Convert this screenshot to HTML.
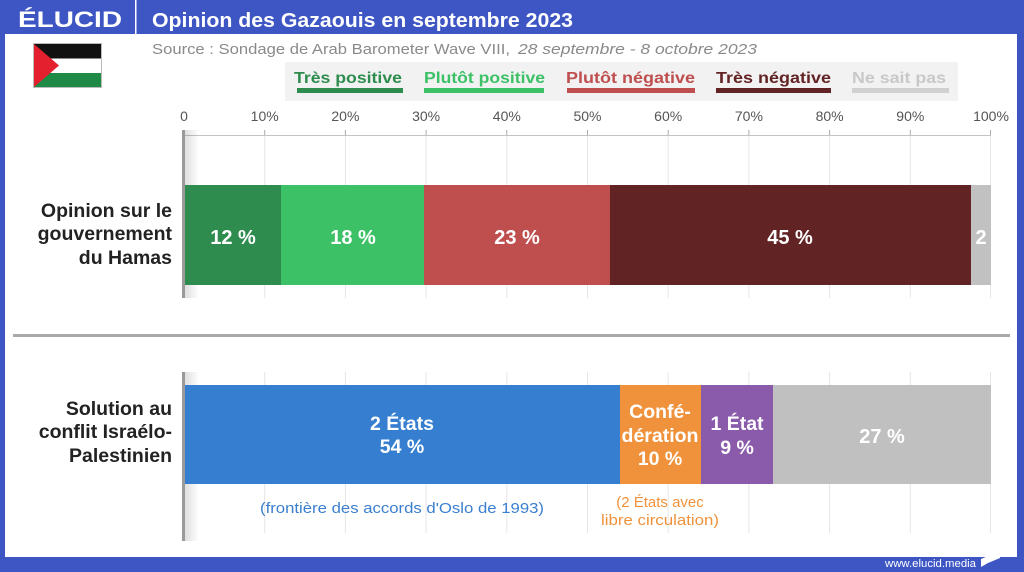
<!DOCTYPE html>
<html>
<head>
<meta charset="utf-8">
<style>
  html,body{margin:0;padding:0;background:#3d56c4;}
  svg{display:block;}
  text{font-family:"Liberation Sans",Arial,sans-serif;}
</style>
</head>
<body>
<svg width="1024" height="572" viewBox="0 0 1024 572" xmlns="http://www.w3.org/2000/svg">
  <defs>
    <linearGradient id="sh" x1="0" y1="0" x2="1" y2="0">
      <stop offset="0" stop-color="#000" stop-opacity="0.13"/>
      <stop offset="1" stop-color="#000" stop-opacity="0"/>
    </linearGradient>
  </defs>
  <!-- background -->
  <rect x="0" y="0" width="1024" height="572" fill="#3d56c4"/>
  <rect x="5" y="34" width="1012" height="523" fill="#ffffff"/>

  <!-- header -->
  <text x="18" y="27" font-size="22" font-weight="bold" fill="#fff" textLength="104" lengthAdjust="spacingAndGlyphs">ÉLUCID</text>
  <rect x="135" y="0" width="1.5" height="34" fill="#ffffff"/>
  <text x="152" y="27" font-size="20" font-weight="bold" fill="#fff" textLength="421" lengthAdjust="spacingAndGlyphs">Opinion des Gazaouis en septembre 2023</text>

  <!-- flag -->
  <rect x="33.5" y="43.5" width="68" height="44" fill="#fff" stroke="#bbb" stroke-width="1"/>
  <rect x="34" y="44" width="67" height="14.5" fill="#111"/>
  <rect x="34" y="58.5" width="67" height="14.5" fill="#fff"/>
  <rect x="34" y="73" width="67" height="14" fill="#1e8a45"/>
  <polygon points="34,44 59,65.5 34,87" fill="#e5202e"/>

  <!-- source -->
  <text x="152" y="54" font-size="15" fill="#8a8a8a" textLength="358" lengthAdjust="spacingAndGlyphs">Source : Sondage de Arab Barometer Wave VIII,</text>
  <text x="518" y="54" font-size="15" font-style="italic" fill="#8a8a8a" textLength="239" lengthAdjust="spacingAndGlyphs">28 septembre -  8 octobre 2023</text>

  <!-- legend -->
  <rect x="285" y="62" width="673" height="39" fill="#f2f2f2"/>
  <text x="294" y="83" font-size="16" font-weight="bold" fill="#2e8c4e" textLength="108" lengthAdjust="spacingAndGlyphs">Très positive</text>
  <rect x="297" y="88" width="106" height="5" fill="#2e8c4e"/>
  <text x="424" y="83" font-size="16" font-weight="bold" fill="#3dc167" textLength="121" lengthAdjust="spacingAndGlyphs">Plutôt positive</text>
  <rect x="424" y="88" width="120" height="5" fill="#3dc167"/>
  <text x="566" y="83" font-size="16" font-weight="bold" fill="#bf4f4f" textLength="129" lengthAdjust="spacingAndGlyphs">Plutôt négative</text>
  <rect x="567" y="88" width="128" height="5" fill="#bf4f4f"/>
  <text x="716" y="83" font-size="16" font-weight="bold" fill="#622325" textLength="115" lengthAdjust="spacingAndGlyphs">Très négative</text>
  <rect x="716" y="88" width="115" height="5" fill="#622325"/>
  <text x="852" y="83" font-size="16" font-weight="bold" fill="#c8c8c8" textLength="94" lengthAdjust="spacingAndGlyphs">Ne sait pas</text>
  <rect x="852" y="88" width="97" height="5" fill="#d0d0d0"/>

  <!-- axis tick labels -->
  <g font-size="14" fill="#555" text-anchor="middle">
    <text x="184" y="121">0</text>
    <text x="264.7" y="121">10%</text>
    <text x="345.4" y="121">20%</text>
    <text x="426.1" y="121">30%</text>
    <text x="506.8" y="121">40%</text>
    <text x="587.5" y="121">50%</text>
    <text x="668.2" y="121">60%</text>
    <text x="748.9" y="121">70%</text>
    <text x="829.6" y="121">80%</text>
    <text x="910.3" y="121">90%</text>
    <text x="991" y="121">100%</text>
  </g>

  <!-- top chart gridlines -->
  <g stroke="#e6e6e6" stroke-width="1">
    <line x1="264.7" y1="135" x2="264.7" y2="298"/>
    <line x1="345.4" y1="135" x2="345.4" y2="298"/>
    <line x1="426.1" y1="135" x2="426.1" y2="298"/>
    <line x1="506.8" y1="135" x2="506.8" y2="298"/>
    <line x1="587.5" y1="135" x2="587.5" y2="298"/>
    <line x1="668.2" y1="135" x2="668.2" y2="298"/>
    <line x1="748.9" y1="135" x2="748.9" y2="298"/>
    <line x1="829.6" y1="135" x2="829.6" y2="298"/>
    <line x1="910.3" y1="135" x2="910.3" y2="298"/>
    <line x1="990.5" y1="135" x2="990.5" y2="298"/>
  </g>
  <g stroke="#aaa" stroke-width="1">
    <line x1="264.7" y1="130" x2="264.7" y2="135"/>
    <line x1="345.4" y1="130" x2="345.4" y2="135"/>
    <line x1="426.1" y1="130" x2="426.1" y2="135"/>
    <line x1="506.8" y1="130" x2="506.8" y2="135"/>
    <line x1="587.5" y1="130" x2="587.5" y2="135"/>
    <line x1="668.2" y1="130" x2="668.2" y2="135"/>
    <line x1="748.9" y1="130" x2="748.9" y2="135"/>
    <line x1="829.6" y1="130" x2="829.6" y2="135"/>
    <line x1="910.3" y1="130" x2="910.3" y2="135"/>
    <line x1="990.5" y1="130" x2="990.5" y2="135"/>
  </g>
  <line x1="184" y1="135.5" x2="991" y2="135.5" stroke="#c4c4c4" stroke-width="1"/>
  <rect x="185" y="130" width="14" height="168" fill="url(#sh)"/>

  <!-- top bar -->
  <rect x="184" y="185" width="97" height="100" fill="#2e8c4e"/>
  <rect x="281" y="185" width="143" height="100" fill="#3dc167"/>
  <rect x="424" y="185" width="186" height="100" fill="#bf4f4f"/>
  <rect x="610" y="185" width="361" height="100" fill="#622325"/>
  <rect x="971" y="185" width="20" height="100" fill="#c1c1c1"/>
  <rect x="182" y="130" width="3" height="168" fill="#9a9a9a"/>

  <g font-size="20" font-weight="bold" fill="#fff" text-anchor="middle">
    <text x="233" y="244">12 %</text>
    <text x="353" y="244">18 %</text>
    <text x="517" y="244">23 %</text>
    <text x="790" y="244">45 %</text>
    <text x="981" y="244">2</text>
  </g>

  <g font-size="19.5" font-weight="bold" fill="#222" text-anchor="end">
    <text x="172" y="217">Opinion sur le</text>
    <text x="172" y="240">gouvernement</text>
    <text x="172" y="264">du Hamas</text>
  </g>

  <!-- divider -->
  <rect x="13" y="334" width="997" height="3" fill="#a9a9a9"/>

  <!-- bottom chart gridlines -->
  <g stroke="#e6e6e6" stroke-width="1">
    <line x1="264.7" y1="372" x2="264.7" y2="533"/>
    <line x1="345.4" y1="372" x2="345.4" y2="533"/>
    <line x1="426.1" y1="372" x2="426.1" y2="533"/>
    <line x1="506.8" y1="372" x2="506.8" y2="533"/>
    <line x1="587.5" y1="372" x2="587.5" y2="533"/>
    <line x1="668.2" y1="372" x2="668.2" y2="533"/>
    <line x1="748.9" y1="372" x2="748.9" y2="533"/>
    <line x1="829.6" y1="372" x2="829.6" y2="533"/>
    <line x1="910.3" y1="372" x2="910.3" y2="533"/>
    <line x1="990.5" y1="372" x2="990.5" y2="533"/>
  </g>
  <rect x="185" y="372" width="14" height="169" fill="url(#sh)"/>

  <!-- bottom bar -->
  <rect x="184" y="385" width="436" height="99" fill="#367fd0"/>
  <rect x="620" y="385" width="81" height="99" fill="#f0923b"/>
  <rect x="701" y="385" width="72" height="99" fill="#8a5bab"/>
  <rect x="773" y="385" width="218" height="99" fill="#c0c0c0"/>
  <rect x="182" y="372" width="3" height="169" fill="#9a9a9a"/>

  <g font-size="19.5" font-weight="bold" fill="#fff" text-anchor="middle">
    <text x="402" y="430">2 États</text>
    <text x="402" y="453">54 %</text>
    <text x="660" y="418">Confé-</text>
    <text x="660" y="442">dération</text>
    <text x="660" y="465">10 %</text>
    <text x="737" y="430">1 État</text>
    <text x="737" y="454">9 %</text>
    <text x="882" y="443" font-size="20">27 %</text>
  </g>

  <text x="402" y="513" font-size="15" fill="#3a7fcf" text-anchor="middle" textLength="284" lengthAdjust="spacingAndGlyphs">(frontière des accords d'Oslo de 1993)</text>
  <g font-size="15" fill="#f0923b" text-anchor="middle">
    <text x="660" y="507">(2 États avec</text>
    <text x="660" y="525" textLength="118" lengthAdjust="spacingAndGlyphs">libre circulation)</text>
  </g>

  <g font-size="19.5" font-weight="bold" fill="#222" text-anchor="end">
    <text x="172" y="415">Solution au</text>
    <text x="172" y="438">conflit Israélo-</text>
    <text x="172" y="462">Palestinien</text>
  </g>

  <!-- footer -->
  <text x="885" y="567" font-size="11" fill="#fff" textLength="91" lengthAdjust="spacingAndGlyphs">www.elucid.media</text>
  <polygon points="981,559 1000,551 1000,558 988,563 981,567" fill="#fff"/>
</svg>
</body>
</html>
